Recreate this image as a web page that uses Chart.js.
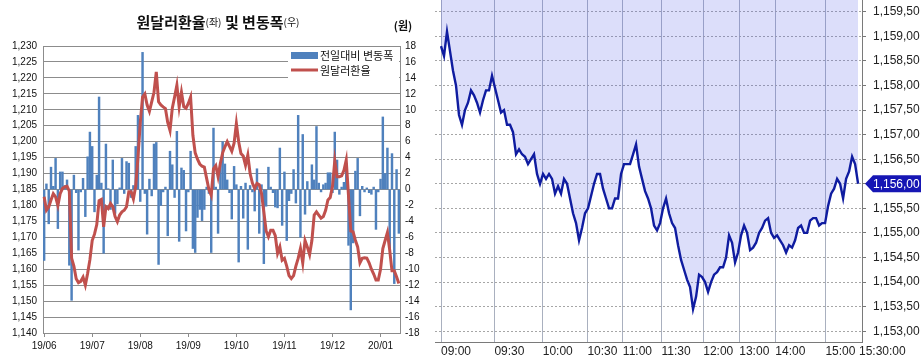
<!DOCTYPE html>
<html>
<head>
<meta charset="utf-8">
<script src="https://cdn.jsdelivr.net/npm/chart.js@4.4.1/dist/chart.umd.min.js"></script>
<style>
  html, body { margin: 0; padding: 0; background: #fff; }
  #wrap { position: relative; width: 921px; height: 360px; overflow: hidden; }
  #boxL { position: absolute; left: 0; top: 0; width: 430px; height: 360px; }
  #boxR { position: absolute; left: 433px; top: 0; width: 488px; height: 360px; }
</style>
</head>
<body>
<div id="wrap">
  <div id="boxL"><canvas id="left"></canvas></div>
  <div id="boxR"><canvas id="right"></canvas></div>
</div>
<script>
// left chart: daily won/dollar rate (left axis) and day-on-day change (right axis)
const monthLabels = ['19/06', '19/07', '19/08', '19/09', '19/10', '19/11', '19/12', '20/01'];
const daysPerMonth = 21;

const dailyChange = [
  -8.9, 0.7, -4.3, 2.8, 0.4, 3.9, -4.9, 2.2, 2.2, 0.5,
  1.2, -9.5, -13.9, 1.8, -0.4, -7.6, -0.3, 1.4, -3.4, 4.1,
  7.2, 5.4, -2.8, 1.8, 11.6, 0.8, -8, 5.7, 0.1, -2.5,
  3.7, -3, -1.8, 0.2, 3.9, -0.5, 3.5, 3.3, -1, 0.5,
  5.4, 9.3, -1.5, 17.2, -0.5, -5.6, 1.3, -0.8, 5.7, 5.9,
  -9.4, -2, -0.3, 0.3, -5.8, 4.8, 3.1, -1, 7.3, -6.5,
  2.7, 2.4, -5.2, -0.3, 4.8, -7.4, -7.9, -3.5, -2.5, -3.9,
  -2.5, 0.3, -0.5, -7.9, 7.7, 0.3, -5.5, 3.2, 6.0, 3.2,
  1.2, -0.4, -3.7, 2.9, 0.6, -9.1, 0.4, -3.6, 0.8, -7.5,
  0.5, -0.3, -2.7, 2.6, -5.5, 0.6, -9.3, -2.1, 2.8, 0.3,
  -0.4, -2.2, -2.3, 5.2, -4.5, 2.2, -6.4, -1.4, -0.5, 2.5,
  -1.7, 9.3, -6.0, 6.9, -3.1, 1.0, -2.0, 3.1, 1.2, 7.9,
  0.8, -0.3, 0.6, 0.8, 2.1, 2.1, -0.4, 7.2, 3.7, -0.6,
  0.3, 0.9, 3.3, -7, -15.1, -6.7, 2.3, 3.9, -3.3, 0.4,
  -0.3, 0.2, -0.4, -0.6, 0.3, -5.0, -0.3, 1.3, 9.1, 2.0,
  5.2, -7.3, 4.5, -11.8, 2.5, -5.5
];

const usdKrw = [
  1182.7, 1178.5, 1179.5, 1181.7, 1183.7, 1182.7, 1180, 1183.7, 1185.3, 1185.8,
  1186, 1184.5, 1163.5, 1161, 1157, 1155.8, 1156.2, 1157.5, 1155, 1158.7,
  1163, 1169, 1171, 1174, 1181.5, 1181.9, 1173.3, 1179.6, 1179, 1180.6,
  1179.6, 1176.5, 1174.9, 1177, 1178, 1178.5, 1179.6, 1184.3, 1184.3, 1182,
  1186, 1195, 1206, 1214, 1215, 1211.5, 1209.5, 1212.5, 1215.5, 1221.9,
  1212.5, 1211.5, 1210.9, 1210.4, 1206, 1203.5, 1210.5, 1214, 1217.7, 1210.9,
  1215.5, 1211, 1210.5, 1212, 1214, 1202, 1196.5, 1194.5, 1193, 1192.3,
  1192, 1188.5, 1185, 1183.2, 1191.5, 1192.5, 1189, 1193.2, 1196.5, 1198.4,
  1200, 1198.5, 1197, 1199.5, 1205.7, 1200, 1196.3, 1195.5, 1192.6, 1195.8,
  1190, 1187, 1185.3, 1186.9, 1186.5, 1183.7, 1178, 1172, 1170.2, 1172.2,
  1172.2, 1170.5, 1165, 1167, 1162.8, 1163.4, 1161, 1158, 1157.1, 1158,
  1161, 1163.4, 1166.5, 1162, 1169, 1167, 1164.6, 1169, 1177, 1178,
  1177, 1176, 1176.5, 1178.5, 1181.7, 1182.5, 1186, 1194, 1189, 1189,
  1189.3, 1191, 1194.2, 1183, 1172, 1171.7, 1169.1, 1167, 1162, 1163.4,
  1163.6, 1163.5, 1162, 1160, 1158.5, 1156.6, 1156.6, 1160, 1166.5, 1169,
  1171.5, 1166, 1159.5, 1159.5, 1157.6, 1155.5
];

// right chart: intraday won/dollar, one value per sampled step
const timeLabels = ['09:00', '09:30', '10:00', '10:30', '11:00', '11:30', '12:00', '13:00', '14:00', '15:00', '15:30:00'];
const timeTickAt = [0, 17.8, 33.9, 48.8, 60.6, 73.5, 87.4, 99.4, 111.4, 128.1, 139.3];
const priceTicks = [1153.0, 1153.5, 1154.0, 1154.5, 1155.0, 1155.5, 1156.0, 1156.5, 1157.0, 1157.5, 1158.0, 1158.5, 1159.0, 1159.5];

const intraday = [
  1158.8, 1158.6, 1159.1, 1158.7, 1158.3, 1158.0, 1157.4, 1157.2, 1157.5, 1157.65,
  1157.9, 1157.8, 1157.65, 1157.45, 1157.7, 1157.9, 1157.9, 1158.2, 1157.95, 1157.7,
  1157.45, 1157.5, 1157.2, 1157.2, 1157.05, 1156.6, 1156.7, 1156.6, 1156.55, 1156.4,
  1156.5, 1156.6, 1156.2, 1156.0, 1156.2, 1156.1, 1156.2, 1156.1, 1155.8, 1155.95,
  1155.8, 1156.1, 1156.0, 1155.7, 1155.4, 1155.2, 1154.85, 1155.1, 1155.4, 1155.5,
  1155.75, 1156.0, 1156.2, 1156.2, 1155.9, 1155.7, 1155.5, 1155.5, 1155.7, 1155.7,
  1156.2, 1156.4, 1156.4, 1156.4, 1156.6, 1156.8, 1156.35, 1156.1, 1155.85, 1155.7,
  1155.5, 1155.15, 1155.05, 1155.2, 1155.5, 1155.7, 1155.4, 1155.2, 1155.1, 1154.75,
  1154.45, 1154.25, 1154.05, 1153.9, 1153.45, 1153.7, 1154.15, 1154.1, 1154.0, 1153.8,
  1154.0, 1154.15, 1154.2, 1154.3, 1154.3, 1154.5, 1154.95, 1154.8, 1154.4, 1154.6,
  1154.95, 1155.15, 1155.0, 1154.65, 1154.7, 1154.8, 1155.0, 1155.1, 1155.25, 1155.3,
  1155.0, 1154.9, 1154.95, 1154.85, 1154.75, 1154.6, 1154.75, 1154.7, 1154.85, 1155.1,
  1155.15, 1155.0, 1155.0, 1155.25, 1155.3, 1155.3, 1155.15, 1155.2, 1155.2, 1155.55,
  1155.8, 1155.9, 1156.1, 1156.0, 1155.7, 1156.1, 1156.25, 1156.55, 1156.4, 1156.0
];
const lastPrice = intraday[intraday.length - 1];

const dayLabels = usdKrw.map((v, i) => (i % daysPerMonth === 0 ? monthLabels[i / daysPerMonth] : ''));

function fmtPrice(v) {
  const parts = v.toFixed(2).split('.');
  return parts[0].replace(/\B(?=(\d{3})+(?!\d))/g, ',') + ',' + parts[1];
}

const KR = '"Noto Sans CJK KR", "Noto Sans", sans-serif';
const LAT = '"Liberation Sans", Arial, sans-serif';

// title, unit and legend of the left chart
const leftDecor = {
  id: 'leftDecor',
  afterDraw(chart) {
    const ctx = chart.ctx;
    ctx.save();
    const parts = [
      ['원달러환율', 'bold 15px ' + KR],
      ['(좌)', '10px ' + KR],
      [' 및 ', 'bold 15px ' + KR],
      ['변동폭', 'bold 15px ' + KR],
      ['(우)', '10px ' + KR]
    ];
    let total = 0;
    parts.forEach(p => { ctx.font = p[1]; total += ctx.measureText(p[0]).width; });
    let x = 218 - total / 2;
    ctx.fillStyle = '#111';
    ctx.textBaseline = 'middle';
    ctx.textAlign = 'left';
    parts.forEach(p => {
      ctx.font = p[1];
      ctx.fillText(p[0], x, 22);
      x += ctx.measureText(p[0]).width;
    });
    ctx.font = 'bold 11px ' + KR;
    ctx.textAlign = 'center';
    ctx.fillText('(원)', 403, 26);

    // legend
    ctx.fillStyle = '#fff';
    ctx.fillRect(288, 48, 111, 32);
    ctx.fillStyle = '#4f81bd';
    ctx.fillRect(291, 52, 27, 7);
    ctx.strokeStyle = '#c0504d';
    ctx.lineWidth = 3;
    ctx.beginPath();
    ctx.moveTo(291, 70);
    ctx.lineTo(318, 70);
    ctx.stroke();
    ctx.fillStyle = '#111';
    ctx.font = '11px ' + KR;
    ctx.textAlign = 'left';
    ctx.fillText('전일대비 변동폭', 320, 56);
    ctx.fillText('원달러환율', 320, 71);
    ctx.restore();
  }
};

new Chart(document.getElementById('left'), {
  type: 'bar',
  data: {
    labels: dayLabels,
    datasets: [
      {
        type: 'bar',
        label: '전일대비 변동폭',
        data: dailyChange,
        yAxisID: 'yR',
        backgroundColor: '#4f81bd',
        barThickness: 1.8,
        order: 2
      },
      {
        type: 'line',
        label: '원달러환율',
        data: usdKrw,
        yAxisID: 'yL',
        borderColor: '#c0504d',
        borderWidth: 3,
        pointRadius: 0,
        tension: 0,
        order: 1
      }
    ]
  },
  options: {
    responsive: true,
    maintainAspectRatio: false,
    animation: false,
    layout: { padding: { top: 46, left: 0, right: 0, bottom: 0 } },
    plugins: { legend: { display: false }, tooltip: { enabled: false } },
    scales: {
      x: {
        grid: {
          drawOnChartArea: false,
          offset: false,
          tickLength: 4,
          color: c => (c.tick && c.tick.label ? '#8c8c8c' : 'rgba(0,0,0,0)')
        },
        border: { color: '#8c8c8c' },
        ticks: { autoSkip: false, maxRotation: 0, minRotation: 0, color: '#111', padding: 3, font: { size: 10, family: LAT } },
        afterFit: s => { s.height = 27; }
      },
      yL: {
        position: 'left',
        min: 1140,
        max: 1230,
        ticks: { stepSize: 5, color: '#111', padding: 6, font: { size: 10, family: LAT }, callback: v => v.toLocaleString('en-US') },
        grid: { color: '#8c8c8c', drawTicks: false },
        border: { color: '#8c8c8c' },
        afterFit: s => { s.width = 43; }
      },
      yR: {
        position: 'right',
        min: -18,
        max: 18,
        ticks: { stepSize: 2, color: '#111', padding: 5, font: { size: 10, family: LAT } },
        grid: { drawOnChartArea: false, drawTicks: false },
        border: { color: '#8c8c8c' },
        afterFit: s => { s.width = 30; }
      }
    }
  },
  plugins: [leftDecor]
});

// current price tag on the right axis
const lastMark = {
  id: 'lastMark',
  afterDraw(chart) {
    const { ctx, chartArea } = chart;
    const y = chart.scales.y.getPixelForValue(lastPrice);
    const x0 = chartArea.right + 3;
    ctx.save();
    ctx.fillStyle = '#1616b4';
    ctx.beginPath();
    ctx.moveTo(x0, y);
    ctx.lineTo(x0 + 8, y - 8.5);
    ctx.lineTo(chart.width, y - 8.5);
    ctx.lineTo(chart.width, y + 8.5);
    ctx.lineTo(x0 + 8, y + 8.5);
    ctx.closePath();
    ctx.fill();
    ctx.fillStyle = '#fff';
    ctx.font = '12px ' + LAT;
    ctx.textBaseline = 'middle';
    ctx.textAlign = 'left';
    ctx.fillText(fmtPrice(lastPrice), x0 + 8, y + 0.5);
    ctx.restore();
  }
};

new Chart(document.getElementById('right'), {
  type: 'line',
  data: {
    datasets: [{
      data: intraday.map((v, i) => ({ x: i, y: v })),
      borderColor: '#0f1ca0',
      borderWidth: 2.4,
      pointRadius: 0,
      tension: 0,
      fill: 'end',
      backgroundColor: 'rgba(88,98,232,0.21)'
    }]
  },
  options: {
    responsive: true,
    maintainAspectRatio: false,
    animation: false,
    layout: { padding: { left: 2, top: 0, right: 0, bottom: 0 } },
    plugins: { legend: { display: false }, tooltip: { enabled: false } },
    scales: {
      x: {
        type: 'linear',
        min: -2,
        max: 140.3,
        afterBuildTicks: s => { s.ticks = timeTickAt.map(v => ({ value: v })); },
        ticks: {
          align: 'start',
          autoSkip: false,
          maxRotation: 0,
          color: '#222',
          padding: 2,
          font: { size: 12, family: LAT },
          callback: (v, i) => timeLabels[i]
        },
        grid: {
          color: c => (c.index === timeTickAt.length - 1 ? 'rgba(0,0,0,0)' : '#a9b0bf'),
          drawTicks: false
        },
        border: { color: '#7a7a7a' },
        afterFit: s => { s.height = 18; s.paddingLeft = 0; s.paddingRight = 0; }
      },
      y: {
        position: 'right',
        min: 1152.78,
        max: 1159.74,
        afterBuildTicks: s => { s.ticks = priceTicks.map(v => ({ value: v })); },
        ticks: { color: '#222', padding: 7, font: { size: 12, family: LAT }, callback: v => fmtPrice(v) },
        grid: { color: '#a6a6a6', tickLength: 4, tickColor: '#777', tickBorderDash: [] },
        border: { color: '#7a7a7a', dash: [2, 2] },
        afterFit: s => { s.width = 59; s.paddingTop = 0; s.paddingBottom = 0; }
      }
    }
  },
  plugins: [lastMark]
});
</script>
</body>
</html>
